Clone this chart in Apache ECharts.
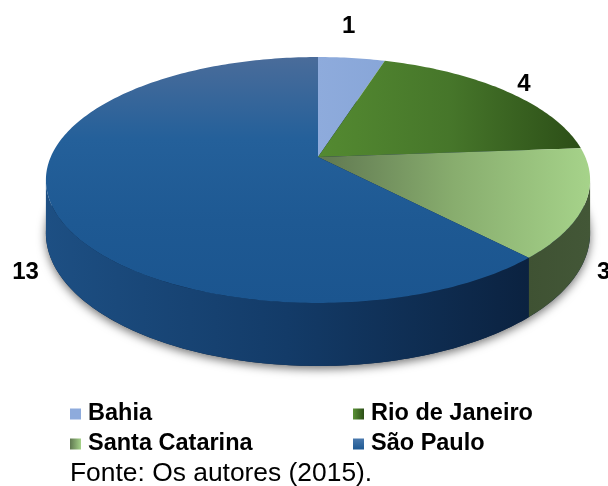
<!DOCTYPE html>
<html>
<head>
<meta charset="utf-8">
<script src="https://cdn.jsdelivr.net/npm/echarts@6/dist/echarts.min.js"></script>
<style>html,body{margin:0;padding:0;background:#fff}#c{width:608px;height:486px}</style>
</head>
<body>
<div id="c"></div>
<script>
const categories = ['Bahia', 'Rio de Janeiro', 'Santa Catarina', 'São Paulo'];
const values = [1, 4, 3, 13];
const caption = 'Fonte: Os autores (2015).';

// style tables (not data)
function lg(x, y, x2, y2, stops) {
  return {type: 'linear', x: x, y: y, x2: x2, y2: y2, global: false,
    colorStops: stops.map(function (c, i) { return {offset: i / (stops.length - 1), color: c}; })};
}
const topFill = [
  lg(0, 0, 1, 0, ['#8eabdc', '#88a6d8']),
  lg(0, 0, 1, 0, ['#548a31', '#46762a', '#2c4e17']),
  lg(0, 0, 1, 0, ['#5f7750', '#88ad6e', '#a6d38a']),
  lg(0, 0, 0, 1, ['#4a6c9a', '#24609a', '#1e5993', '#1b558f'])
];
const sideFill = [
  '#6f89b5',
  '#2c4a1a',
  lg(0, 0, 1, 0, ['#3f5233', '#435737']),
  lg(0, 0, 1, 0, ['#1d4f83', '#133b68', '#0b2240'])
];
const legendFill = [
  '#8eabdc',
  lg(0, 0, 1, 0, ['#5a9236', '#2c4e17']),
  lg(0, 0, 1, 0, ['#5f7750', '#a6d38a']),
  lg(0, 0, 0, 1, ['#4a79ad', '#1e5993'])
];

// projection of a unit circle (u right, v toward viewer) with perspective
const G = {cx: 318, K: 267.3, A: 89.3, B: 157, C: -0.187, D: 51.2};
function proj(u, v, down) {
  const w = 1 + G.C * v;
  return [G.cx + G.K * u / w, (G.A * v + G.B) / w + (down ? G.D / w : 0)];
}
function rim(t, down) { return proj(Math.sin(t), -Math.cos(t), down); }
function arc(t0, t1, down) {
  const pts = [];
  const n = Math.max(2, Math.ceil((t1 - t0) / (Math.PI / 180)));
  for (let k = 0; k <= n; k++) pts.push(rim(t0 + (t1 - t0) * k / n, down));
  return pts;
}
const total = values.reduce(function (a, b) { return a + b; }, 0);
const starts = [];
(function () { let s = 0; values.forEach(function (v) { starts.push(s); s += v / total * Math.PI * 2; }); })();
const frontA = Math.acos(G.C), frontB = Math.PI * 2 - Math.acos(G.C);
const labelFont = 'bold 24px "Liberation Sans", Arial, sans-serif';

function makeRender(i) {
  return function (params, api) {
    const v = api.value(0);
    const t0 = starts[i], t1 = t0 + v / total * Math.PI * 2;
    const children = [];
    // side wall (only visible front part)
    const s = Math.max(t0, frontA), e = Math.min(t1, frontB);
    if (e > s) {
      const topArc = arc(s, e, false);
      const botArc = arc(s, e, true).reverse();
      children.push({type: 'polygon', z2: 1, shape: {points: topArc.concat(botArc)},
        style: {fill: sideFill[i]}});
    }
    // top face
    children.push({type: 'polygon', z2: 2, shape: {points: [proj(0, 0, false)].concat(arc(t0, t1, false))},
      style: {fill: topFill[i]}});
    // value label
    const tm = (t0 + t1) / 2;
    const u = Math.sin(tm), vv = -Math.cos(tm);
    let p = rim(tm, false);
    let align = 'center', valign = 'bottom', x = p[0], y = p[1];
    if (vv > 0) { const w = 1 + G.C * vv; y += 1.25 * G.D / w; }
    if (Math.abs(u) > 0.5) { align = u > 0 ? 'left' : 'right'; valign = 'middle'; x += u > 0 ? 12 : -12; if (vv <= 0) y -= 6; }
    else { y -= 20; x -= 3; }
    children.push({type: 'text', z2: 3, style: {text: String(v), x: x, y: y, align: align, verticalAlign: valign,
      font: labelFont, fill: '#000'}});
    return {type: 'group', children: children};
  };
}

const series = [{
  type: 'custom', coordinateSystem: 'none', silent: true, data: [[total]],
  renderItem: function () {
    return {type: 'polygon', z2: 0, shape: {points: arc(0, Math.PI * 2, true)},
      style: {fill: '#0b2240', shadowBlur: 10, shadowColor: 'rgba(0,0,0,0.55)', shadowOffsetY: 3}};
  }
}];
categories.forEach(function (name, i) {
  series.push({type: 'custom', name: name, coordinateSystem: 'none', data: [[values[i]]],
    itemStyle: {color: legendFill[i]}, renderItem: makeRender(i)});
});

const legendBase = {orient: 'vertical', top: 402, padding: 0, itemGap: 6, itemWidth: 11, itemHeight: 11, icon: 'rect',
  selectedMode: false,
  textStyle: {fontSize: 23.5, fontWeight: 'bold', fontFamily: '"Liberation Sans", Arial, sans-serif', color: '#000', padding: [0, 0, 0, 2]}};

const chart = echarts.init(document.getElementById('c'), null, {renderer: 'canvas'});
chart.setOption({
  animation: false,
  backgroundColor: '#fff',
  title: {text: caption, left: 70, top: 461, padding: 0,
    textStyle: {fontSize: 26.4, fontWeight: 'normal', fontFamily: '"Liberation Sans", Arial, sans-serif', color: '#000'}},
  legend: [
    Object.assign({}, legendBase, {left: 70, data: [categories[0], categories[2]]}),
    Object.assign({}, legendBase, {left: 353, data: [categories[1], categories[3]]})
  ],
  series: series
});
</script>
</body>
</html>
